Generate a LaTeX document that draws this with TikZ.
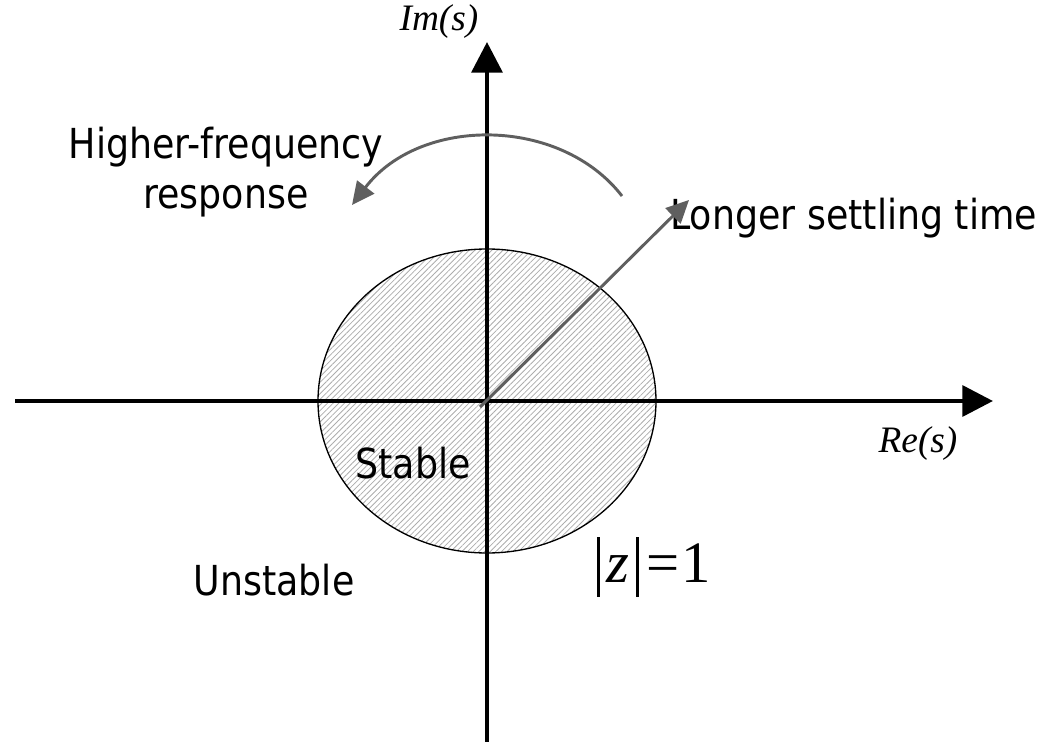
\documentclass[tikz,border=0pt]{standalone}
\usepackage{fontspec}
\setmainfont{Liberation Serif}
\newfontfamily\tah[FakeStretch=0.88]{DejaVu Sans}
\usetikzlibrary{arrows.meta,patterns.meta}
\definecolor{arrgray}{HTML}{5F5F5F}
\newcommand{\zbar}{\rule[-11pt]{2pt}{45pt}}
\tikzset{
  axis/.style={line width=3.3pt,-{Triangle[length=23pt,width=23pt]}},
  grayarrow/.style={line width=2.2pt,arrgray,-{Triangle[length=17pt,width=16pt]}},
  sanslabel/.style={font=\tah\fontsize{31pt}{33pt}\selectfont,inner sep=0pt},
  seriflabel/.style={font=\itshape\fontsize{28pt}{30pt}\selectfont,inner sep=0pt},
}
\begin{document}
\begin{tikzpicture}[x=0.75pt,y=-0.75pt]
\useasboundingbox (0,0) rectangle (1057,742);
% stable region
\path[draw=black,line width=1pt,pattern={Lines[angle=45,distance=3pt,line width=0.6pt]},pattern color=gray!65]
  (487,401) ellipse [x radius=169, y radius=152];
% axes
\coordinate (xl) at (15,401);
\coordinate (xr) at (993,401);
\coordinate (yb) at (487,742);
\coordinate (yt) at (487,42);
\draw[axis] (xl) -- (xr);
\draw[axis] (yb) -- (yt);
% labels
\node[seriflabel] (im) at (439,22) {Im(s)};
\node[seriflabel] (re) at (918,444) {Re(s)};
\node[sanslabel,align=center] (hf) at (226,172) {Higher-frequency\\[4pt]response};
\node[sanslabel,anchor=west] (ls) at (670,218) {Longer settling time};
\node[sanslabel] (st) at (413,463) {Stable};
\node[sanslabel] (un) at (274,580) {Unstable};
\node[inner sep=0pt,anchor=base west,font=\fontsize{44pt}{48pt}\selectfont] (z) at (597,582)
  {\zbar\hspace{5pt}\textit{z}\hspace{5pt}\zbar\hspace{6pt}=\hspace{1pt}1};
% gray arrows
\coordinate (o) at (480,407);
\coordinate (dt) at (689,200);
\draw[grayarrow] (o) -- (dt);
\coordinate (as) at (622,196);
\coordinate (ae) at (352,205);
\draw[grayarrow] (as) .. controls (560,116) and (420,116) .. (ae);
\end{tikzpicture}
\end{document}
